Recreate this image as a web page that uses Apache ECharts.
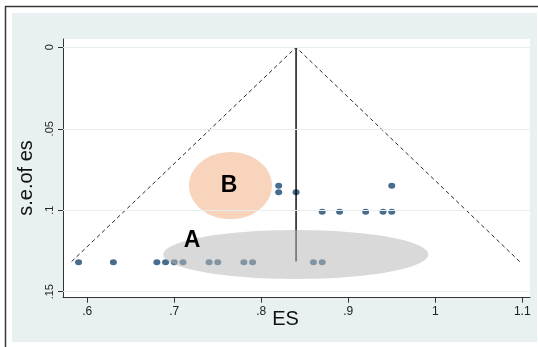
<!DOCTYPE html>
<html>
<head>
<meta charset="utf-8">
<script src="https://cdn.jsdelivr.net/npm/echarts@6/dist/echarts.min.js"></script>
<style>html,body{margin:0;padding:0;background:#fff;}#c{width:538px;height:347px;}</style>
</head>
<body>
<div id="c"></div>
<script>
// Study effect sizes (ES) and their standard errors
const esValues = [0.59, 0.63, 0.68, 0.69, 0.70, 0.71, 0.74, 0.75, 0.78, 0.79, 0.86, 0.87,
                  0.82, 0.82, 0.84, 0.87, 0.89, 0.92, 0.94, 0.95, 0.95];
const seValues = [0.132, 0.132, 0.132, 0.132, 0.132, 0.132, 0.132, 0.132, 0.132, 0.132, 0.132, 0.132,
                  0.085, 0.089, 0.089, 0.101, 0.101, 0.101, 0.101, 0.101, 0.085];
// Pooled estimate line and pseudo 95% confidence limits (funnel)
const pooledES = [0.84, 0.84];
const pooledSE = [0, 0.1315];
const funnelES = [0.582, 0.84, 1.097];
const funnelSE = [0.1315, 0, 0.1315];
// Axis ticks
const xTickValues = [0.6, 0.7, 0.8, 0.9, 1.0, 1.1];
const xTickLabels = ['.6', '.7', '.8', '.9', '1', '1.1'];
const yTickValues = [0, 0.05, 0.1, 0.15];
const yTickLabels = ['0', '.05', '.1', '.15'];
// Annotations (centre ES, centre SE, label)
const annotLabels = ['A', 'B'];
const annotES = [0.8397, 0.7646];
const annotSE = [0.1272, 0.0849];

const pair = (xs, ys) => xs.map((x, i) => [x, ys[i]]);
const lookup = (vals, labels) => v => {
  let best = 0;
  vals.forEach((t, i) => { if (Math.abs(t - v) < Math.abs(vals[best] - v)) best = i; });
  return labels[best];
};

const annotStyle = {
  A: { rx: 0.1523, ry: 0.01504, fill: 'rgba(184,184,184,0.53)', tx: 0.7204, ty: 0.1189 },
  B: { rx: 0.0477, ry: 0.0207, fill: '#f7d4bb', tx: 0.7629, ty: 0.0849 }
};

const chart = echarts.init(document.getElementById('c'), null, { renderer: 'canvas' });
const FONT = '"Liberation Sans", Arial, sans-serif';

chart.setOption({
  backgroundColor: '#ffffff',
  animation: false,
  graphic: [
    { type: 'rect', z: -10, silent: true, shape: { x: 12, y: 13, width: 525, height: 329 }, style: { fill: '#e9f0f2' } },
    { type: 'polyline', z: -5, silent: true, shape: { points: [[5.5, 347], [5.5, 6.5], [538, 6.5]] }, style: { stroke: '#3a3a3a', lineWidth: 1.5, fill: null } },
    { type: 'text', z: 5, x: 285.5, y: 319, style: { text: 'ES', font: '20px ' + FONT, fill: '#111', align: 'center', verticalAlign: 'middle' } },
    { type: 'text', z: 5, x: 26, y: 178, rotation: Math.PI / 2, style: { text: 's.e.of es', font: '20px ' + FONT, fill: '#111', align: 'center', verticalAlign: 'middle' } }
  ],
  grid: { left: 63, right: 8, top: 39, bottom: 49.3, show: true, backgroundColor: '#ffffff', borderWidth: 0, containLabel: false },
  xAxis: {
    type: 'value', min: 0.5721, max: 1.1089,
    axisLine: { show: true, onZero: false, lineStyle: { color: '#333', width: 1 } },
    axisTick: { show: true, length: 5, customValues: xTickValues, lineStyle: { color: '#333' } },
    axisLabel: { customValues: xTickValues, formatter: lookup(xTickValues, xTickLabels), margin: 8, fontSize: 12, fontFamily: FONT, color: '#222' },
    splitLine: { show: false }
  },
  yAxis: {
    type: 'value', inverse: true, min: -0.0051, max: 0.1537,
    axisLine: { show: true, onZero: false, lineStyle: { color: '#333', width: 1 } },
    axisTick: { show: true, length: 5, customValues: yTickValues, lineStyle: { color: '#333' } },
    axisLabel: { customValues: yTickValues, formatter: lookup(yTickValues, yTickLabels), rotate: 90, margin: 8, fontSize: 11, fontFamily: FONT, color: '#222' },
    splitLine: { show: false }
  },
  series: [
    {
      type: 'line', name: 'grid', silent: true, symbol: 'none', data: [],
      markLine: {
        silent: true, symbol: 'none', label: { show: false },
        lineStyle: { color: '#e6eef1', width: 1, type: 'solid' },
        data: yTickValues.map(v => ({ yAxis: v }))
      },
      z: 0
    },
    {
      type: 'custom', name: 'annotB', z: 1,
      data: [[annotES[1], annotSE[1], 1]],
      renderItem: (params, api) => renderAnnot(api, 1)
    },
    {
      type: 'scatter', name: 'studies', data: pair(esValues, seValues),
      symbol: 'circle', symbolSize: [7, 6], itemStyle: { color: '#1a476f' }, z: 3
    },
    {
      type: 'line', name: 'pooled', data: pair(pooledES, pooledSE), symbol: 'none',
      lineStyle: { color: '#000', width: 1.4 }, z: 4
    },
    {
      type: 'line', name: 'funnel', data: pair(funnelES, funnelSE), symbol: 'none',
      lineStyle: { color: '#2a2a2a', width: 1, type: [4, 3] }, z: 4
    },
    {
      type: 'custom', name: 'annotA', z: 10,
      data: [[annotES[0], annotSE[0], 0]],
      renderItem: (params, api) => renderAnnot(api, 0)
    }
  ]
});

function renderAnnot(api, i) {
  const s = annotStyle[annotLabels[i]];
  const c = api.coord([annotES[i], annotSE[i]]);
  const e = api.coord([annotES[i] + s.rx, annotSE[i] + s.ry]);
  const t = api.coord([s.tx, s.ty]);
  return {
    type: 'group',
    children: [
      { type: 'ellipse', shape: { cx: c[0], cy: c[1], rx: Math.abs(e[0] - c[0]), ry: Math.abs(e[1] - c[1]) }, style: { fill: s.fill } },
      { type: 'text', x: t[0], y: t[1], style: { text: annotLabels[i], font: 'bold 23px ' + FONT, fill: '#000', align: 'center', verticalAlign: 'middle' } }
    ]
  };
}
</script>
</body>
</html>
